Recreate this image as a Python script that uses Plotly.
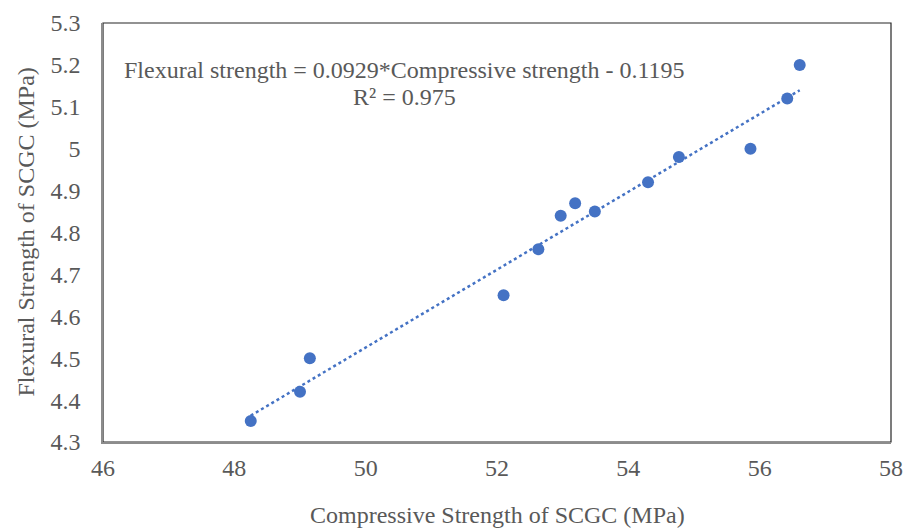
import plotly.graph_objects as go
import numpy as np

compressive = [48.25, 49.0, 49.15, 52.1, 52.63, 52.97, 53.19, 53.49, 54.3, 54.77, 55.86, 56.42, 56.61]
flexural = [4.35, 4.42, 4.50, 4.65, 4.76, 4.84, 4.87, 4.85, 4.92, 4.98, 5.00, 5.12, 5.20]
slope, intercept = 0.0929, -0.1195
eq_line1 = "Flexural strength = 0.0929*Compressive strength - 0.1195"
eq_line2 = "R² = 0.975"
x_title = "Compressive Strength of SCGC (MPa)"
y_title = "Flexural Strength of SCGC (MPa)"
x_ticks = [46, 48, 50, 52, 54, 56, 58]
y_ticks = [4.3, 4.4, 4.5, 4.6, 4.7, 4.8, 4.9, 5.0, 5.1, 5.2, 5.3]
y_tick_text = ["4.3", "4.4", "4.5", "4.6", "4.7", "4.8", "4.9", "5", "5.1", "5.2", "5.3"]

trend_x = np.array([min(compressive), max(compressive)])
trend_y = slope * trend_x + intercept

font = "Liberation Serif"
grey = "#595959"
fs = 24

W, H = 903, 532
ml, mr, mt, mb = 103, 12, 23, 90

fig = go.Figure()
fig.add_trace(go.Scatter(x=trend_x, y=trend_y, mode="lines",
                         line=dict(color="#4472C4", width=2.5, dash="dot"),
                         showlegend=False, hoverinfo="skip"))
fig.add_trace(go.Scatter(x=compressive, y=flexural, mode="markers",
                         marker=dict(color="#4472C4", size=12),
                         showlegend=False))

fig.add_shape(type="rect", xref="paper", yref="paper", x0=0, y0=0, x1=1, y1=1,
              line=dict(color="#262626", width=1.2), layer="below")

fig.add_annotation(x=0.383, y=0.888, xref="paper", yref="paper", text=eq_line1,
                   showarrow=False, align="center", yanchor="middle",
                   font=dict(family=font, size=fs, color=grey))
fig.add_annotation(x=0.383, y=0.823, xref="paper", yref="paper", text=eq_line2,
                   showarrow=False, align="center", yanchor="middle",
                   font=dict(family=font, size=fs, color=grey))

# axis titles as annotations for precise placement
pw, ph = W - ml - mr, H - mt - mb
fig.add_annotation(x=(497 - ml) / pw, y=-(H - 2 - (H - mb)) / ph, xref="paper", yref="paper",
                   text=x_title, showarrow=False, xanchor="center", yanchor="bottom",
                   font=dict(family=font, size=fs, color=grey))
fig.add_annotation(x=-(ml - 25) / pw, y=0.5, xref="paper", yref="paper",
                   text=y_title, showarrow=False, textangle=-90,
                   xanchor="center", yanchor="middle",
                   font=dict(family=font, size=fs, color=grey))

fig.update_layout(
    width=W, height=H,
    margin=dict(l=ml, r=mr, t=mt, b=mb),
    paper_bgcolor="white", plot_bgcolor="white",
    font=dict(family=font, size=fs, color=grey),
    xaxis=dict(range=[46, 58], tickvals=x_ticks, showgrid=False, zeroline=False,
               showline=True, linecolor="#8c8c8c", linewidth=1.5, ticks="",
               ticklabelstandoff=3, automargin=False,
               tickfont=dict(family=font, size=fs, color=grey)),
    yaxis=dict(range=[4.3, 5.3], tickvals=y_ticks, ticktext=y_tick_text, showgrid=False,
               zeroline=False, showline=True, linecolor="#8c8c8c", linewidth=1.5, ticks="",
               ticklabelstandoff=16, automargin=False,
               tickfont=dict(family=font, size=fs, color=grey)),
)

fig.write_html("out.html")
